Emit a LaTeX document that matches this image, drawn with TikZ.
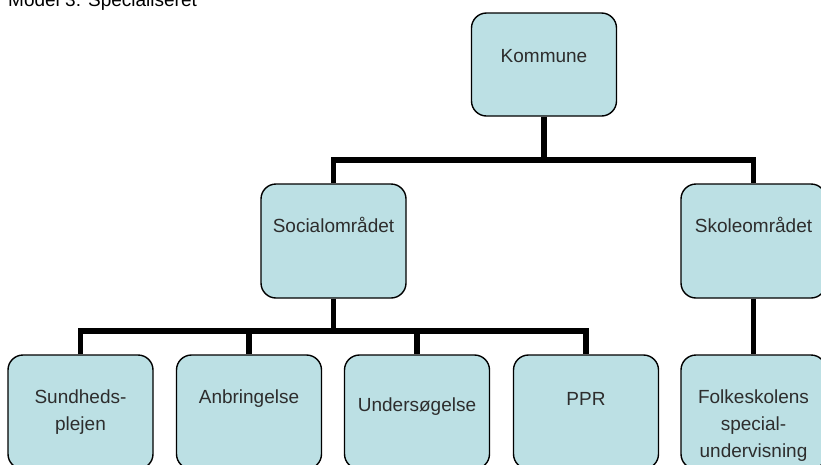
\documentclass[tikz,border=0pt]{standalone}
\usepackage{fontspec}
\setmainfont{Liberation Sans}
\definecolor{boxfill}{RGB}{188,224,228}
\definecolor{labelgray}{RGB}{45,45,45}
\begin{document}
\begin{tikzpicture}[x=1pt,y=-1pt,
  orgbox/.style={draw=black, line width=1.4pt, fill=boxfill, rounded corners=15pt,
    minimum width=145pt, minimum height=114pt, inner sep=0pt},
  boxtext/.style={anchor=base, align=center, text=labelgray, inner sep=0pt,
    font=\fontsize{19}{27}\selectfont},
  link/.style={line width=5.5pt, line join=miter, draw=black}]
\clip (0,0) rectangle (821,464);
\fill[white] (0,0) rectangle (821,464);

% title
\node[anchor=base west, inner sep=0pt, text=black, font=\fontsize{19}{23}\selectfont]
  (title) at (8,6) {Model 3: Specialiseret};

% boxes
\node[orgbox, minimum height=103pt] (kom) at (544,64.5) {};
\node[orgbox] (soc) at (333.5,241) {};
\node[orgbox] (sko) at (753.5,241) {};
\node[orgbox] (sund) at (80.5,412) {};
\node[orgbox] (anb) at (249,412) {};
\node[orgbox] (und) at (417,412) {};
\node[orgbox] (ppr) at (586,412) {};
\node[orgbox] (folk) at (753.5,412) {};

% connector levels
\coordinate (topbar) at (0,160);
\coordinate (lowbar) at (0,331);

\draw[link] (kom.south) -- (kom.south |- topbar);
\draw[link] (soc.north) |- (sko.north |- topbar) -- (sko.north);
\draw[link] (soc.south) -- (soc.south |- lowbar);
\draw[link] (sund.north) |- (ppr.north |- lowbar) -- (ppr.north);
\draw[link] (anb.north) -- (anb.north |- lowbar);
\draw[link] (und.north) -- (und.north |- lowbar);
\draw[link] (sko.south) -- (folk.north);

% labels (multi-line labels are placed by the baseline of their last line)
\node[boxtext] (komtxt) at (544,62) {Kommune};
\node[boxtext] (soctxt) at (333.5,232) {Socialområdet};
\node[boxtext] (skotxt) at (753.5,232) {Skoleområdet};
\node[boxtext] (sundtxt) at (80.5,430) {Sundheds-\\plejen};
\node[boxtext] (anbtxt) at (249,403) {Anbringelse};
\node[boxtext] (undtxt) at (417,411) {Undersøgelse};
\node[boxtext] (pprtxt) at (586,405) {PPR};
\node[boxtext] (folktxt) at (753.5,457) {Folkeskolens\\special-\\undervisning};
\end{tikzpicture}
\end{document}
